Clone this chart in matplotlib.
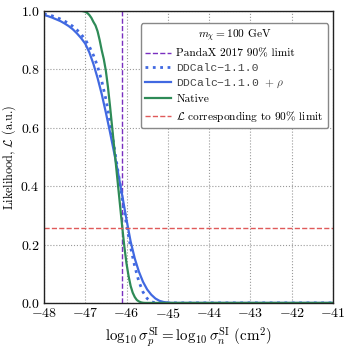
#!/usr/bin/env python3
# -*- coding: utf-8 -*-

import numpy as np
import matplotlib
matplotlib.use('Agg')
import matplotlib.pyplot as plt

# cross section grid (log10 cm^2) and likelihoods
sigma_ddcalc = [-48.0, -47.9, -47.8, -47.7, -47.6, -47.5, -47.4, -47.3, -47.2, -47.1, -47.0,
                -46.9, -46.8, -46.7, -46.6, -46.5, -46.4, -46.3, -46.2, -46.1, -46.0,
                -45.9, -45.8, -45.7, -45.6, -45.5, -45.4, -45.3, -41.0]
like_ddcalc = [0.99, 0.987, 0.983, 0.978, 0.972, 0.965, 0.957, 0.947, 0.935, 0.92, 0.902,
               0.878, 0.848, 0.81, 0.76, 0.698, 0.622, 0.535, 0.445, 0.355, 0.268,
               0.19, 0.125, 0.073, 0.037, 0.015, 0.004, 0.0, 0.0]

sigma_rho = [-48.0, -47.9, -47.8, -47.7, -47.6, -47.5, -47.4, -47.3, -47.2, -47.1, -47.0,
             -46.9, -46.8, -46.7, -46.6, -46.5, -46.4, -46.3, -46.2, -46.1, -46.0,
             -45.9, -45.8, -45.7, -45.6, -45.5, -45.4, -45.3, -45.2, -45.1, -45.0,
             -44.9, -41.0]
like_rho = [0.986, 0.982, 0.977, 0.971, 0.965, 0.957, 0.948, 0.937, 0.923, 0.907, 0.888,
            0.858, 0.818, 0.77, 0.715, 0.652, 0.585, 0.515, 0.442, 0.365, 0.285,
            0.21, 0.152, 0.107, 0.072, 0.046, 0.028, 0.015, 0.007, 0.003, 0.001,
            0.0, 0.0]

sigma_native = [-48.0, -47.1, -47.05, -47.0, -46.95, -46.9, -46.85, -46.8, -46.75, -46.7,
                -46.65, -46.6, -46.55, -46.5, -46.45, -46.4, -46.35, -46.3, -46.25, -46.2,
                -46.15, -46.1, -46.05, -46.0, -45.95, -45.9, -45.85, -45.8, -45.75, -45.7,
                -45.65, -45.6, -45.55, -41.0]
like_native = [1.0, 1.0, 0.999, 0.997, 0.993, 0.986, 0.976, 0.962, 0.95, 0.93,
               0.90, 0.865, 0.835, 0.795, 0.74, 0.675, 0.605, 0.535, 0.465, 0.395,
               0.325, 0.255, 0.19, 0.135, 0.092, 0.058, 0.035, 0.02, 0.01, 0.005,
               0.002, 0.0005, 0.0, 0.0]

pandax_limit = -46.1
like_90 = np.exp(-2.71 / 2.)

plt.rcParams['font.family'] = 'serif'
plt.rcParams['font.serif'] = ['cmr10', 'DejaVu Serif']
plt.rcParams['mathtext.fontset'] = 'cm'
plt.rcParams['axes.formatter.use_mathtext'] = True
plt.rcParams['axes.unicode_minus'] = True

fig = plt.figure(figsize=(3.51, 3.51), dpi=100)
ax = fig.add_axes([0.125, 0.137, 0.824, 0.832])

ax.axvline(pandax_limit, color='#7a2fc0', ls='--', lw=1.0, label='PandaX 2017 90% limit')
ax.plot(sigma_ddcalc, like_ddcalc, color='#4169e1', ls=':', lw=2.0, label='DDCalc\u22121.1.0')
ax.plot(sigma_rho, like_rho, color='#4169e1', ls='-', lw=1.6, label='DDCalc\u22121.1.0 $+\\ \\rho$')
ax.plot(sigma_native, like_native, color='#2e8b57', ls='-', lw=1.6, label='Native')
ax.axhline(like_90, color='#e05a5a', ls='--', lw=1.0, label=r'$\mathcal{L}$ corresponding to 90% limit')

ax.set_xlim(-48, -41)
ax.set_ylim(0, 1)
ax.set_xticks(np.arange(-48, -40))
ax.set_yticks(np.arange(0, 1.01, 0.2))
ax.grid(True, color='#999999', ls=':', lw=0.8)
ax.tick_params(length=0, labelsize=10, pad=3)
for s in ax.spines.values():
    s.set_linewidth(1.0)
    s.set_color('#222222')

ax.set_xlabel(r'$\log_{10}\sigma_p^{\mathrm{SI}} = \log_{10}\sigma_n^{\mathrm{SI}}\ (\mathrm{cm}^2)$', size=10.8, labelpad=3)
ax.set_ylabel(r'Likelihood, $\mathcal{L}$ (a.u.)', size=8.8, labelpad=2)

leg = ax.legend(loc='upper right', bbox_to_anchor=(1.003, 0.977), fontsize=8.2, fancybox=True,
                title=r'$m_\chi = 100$ GeV', title_fontsize=8.2, framealpha=1,
                edgecolor='#888888', handlelength=2.2, handletextpad=0.5,
                labelspacing=0.37, borderpad=0.4)
for t in leg.get_texts()[1:3]:
    t.set_family(['Liberation Mono', 'DejaVu Sans Mono'])
    t.set_color('#444444')

fig.savefig('out.png', dpi=100)
